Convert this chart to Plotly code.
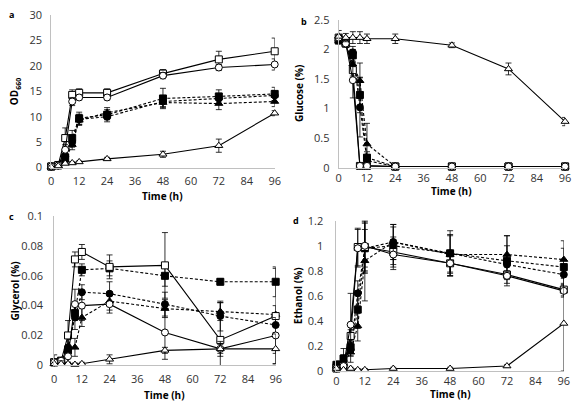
import plotly.graph_objects as go

time_h = [0, 3, 6, 9, 12, 24, 48, 72, 96]
x_ticks = [0, 12, 24, 36, 48, 60, 72, 84, 96]

series_names = ["open square", "open circle", "open triangle",
                "filled square", "filled circle", "filled triangle"]

# Panel a: OD660
od_vals = [
    [0.2, 0.5, 5.8, 14.3, 14.7, 14.7, 18.5, 21.3, 22.9],
    [0.2, 0.4, 3.5, 13.0, 13.8, 13.8, 18.1, 19.7, 20.3],
    [0.1, 0.3, 0.8, 0.9, 1.1, 1.7, 2.6, 4.3, 10.7],
    [0.2, 0.4, 2.0, 5.8, 9.7, 10.4, 13.6, 14.0, 14.5],
    [0.2, 0.4, 2.2, 5.0, 9.5, 10.0, 13.0, 13.6, 14.2],
    [0.1, 0.3, 1.5, 4.5, 9.3, 10.8, 12.8, 12.6, 13.0],
]
od_err = [
    [0.1, 0.1, 2.0, 1.0, 0.8, 0.8, 0.8, 1.6, 2.6],
    [0.1, 0.1, 1.0, 0.8, 0.5, 0.5, 0.6, 0.6, 1.1],
    [0.05, 0.1, 0.2, 0.2, 0.2, 0.3, 0.6, 1.3, 0.5],
    [0.1, 0.1, 0.5, 1.5, 1.2, 1.0, 2.0, 1.3, 1.3],
    [0.1, 0.1, 0.5, 1.0, 1.0, 1.0, 1.0, 1.0, 1.0],
    [0.1, 0.1, 0.5, 1.0, 1.0, 1.0, 1.0, 1.2, 1.0],
]

# Panel b: Glucose (%)
glu_vals = [
    [2.20, 2.10, 1.65, 0.03, 0.03, 0.02, 0.02, 0.02, 0.02],
    [2.20, 2.10, 1.48, 0.03, 0.03, 0.02, 0.02, 0.02, 0.02],
    [2.22, 2.20, 2.20, 2.20, 2.18, 2.18, 2.07, 1.67, 0.78],
    [2.15, 2.10, 1.90, 1.23, 0.17, 0.02, 0.02, 0.02, 0.02],
    [2.15, 2.10, 1.95, 1.02, 0.12, 0.02, 0.02, 0.02, 0.02],
    [2.15, 2.10, 1.75, 1.47, 0.40, 0.02, 0.02, 0.02, 0.02],
]
glu_err = [
    [0.05, 0.05, 0.10, 0.02, 0.02, 0.01, 0.01, 0.01, 0.01],
    [0.05, 0.05, 0.30, 0.02, 0.02, 0.01, 0.01, 0.01, 0.01],
    [0.10, 0.07, 0.10, 0.10, 0.08, 0.08, 0.04, 0.10, 0.07],
    [0.05, 0.05, 0.10, 0.30, 0.10, 0.01, 0.01, 0.01, 0.01],
    [0.05, 0.05, 0.10, 0.50, 0.10, 0.01, 0.01, 0.01, 0.01],
    [0.05, 0.05, 0.10, 0.30, 0.35, 0.01, 0.01, 0.01, 0.01],
]

# Panel c: Glycerol (%)
gly_vals = [
    [0.002, 0.003, 0.020, 0.071, 0.076, 0.066, 0.067, 0.017, 0.033],
    [0.002, 0.003, 0.006, 0.041, 0.040, 0.041, 0.022, 0.011, 0.020],
    [0.001, 0.001, 0.001, 0.0005, 0.001, 0.004, 0.010, 0.011, 0.011],
    [0.002, 0.003, 0.010, 0.035, 0.064, 0.065, 0.060, 0.056, 0.056],
    [0.002, 0.003, 0.012, 0.032, 0.049, 0.048, 0.041, 0.033, 0.027],
    [0.001, 0.002, 0.012, 0.012, 0.032, 0.043, 0.038, 0.036, 0.034],
]
gly_err = [
    [0.002, 0.002, 0.010, 0.005, 0.005, 0.008, 0.022, 0.025, 0.032],
    [0.002, 0.002, 0.004, 0.010, 0.010, 0.006, 0.018, 0.003, 0.012],
    [0.006, 0.002, 0.001, 0.001, 0.001, 0.003, 0.002, 0.005, 0.010],
    [0.002, 0.002, 0.010, 0.005, 0.004, 0.005, 0.007, 0.002, 0.010],
    [0.002, 0.002, 0.006, 0.008, 0.005, 0.008, 0.008, 0.010, 0.005],
    [0.002, 0.002, 0.006, 0.006, 0.006, 0.006, 0.006, 0.006, 0.006],
]

# Panel d: Ethanol (%)
eth_vals = [
    [0.02, 0.04, 0.28, 0.99, 0.99, 0.95, 0.86, 0.77, 0.65],
    [0.02, 0.04, 0.37, 0.98, 1.00, 0.93, 0.86, 0.76, 0.64],
    [0.02, 0.01, 0.02, 0.01, 0.01, 0.02, 0.02, 0.04, 0.38],
    [0.05, 0.10, 0.19, 0.49, 0.98, 1.00, 0.94, 0.88, 0.83],
    [0.05, 0.08, 0.17, 0.62, 0.98, 1.03, 0.94, 0.85, 0.77],
    [0.04, 0.06, 0.15, 0.36, 0.88, 1.03, 0.93, 0.93, 0.89],
]
eth_err = [
    [0.02, 0.03, 0.05, 0.15, 0.20, 0.12, 0.10, 0.03, 0.05],
    [0.02, 0.03, 0.25, 0.15, 0.20, 0.12, 0.10, 0.03, 0.05],
    [0.01, 0.01, 0.01, 0.01, 0.01, 0.01, 0.01, 0.01, 0.38],
    [0.03, 0.08, 0.05, 0.15, 0.20, 0.15, 0.18, 0.20, 0.15],
    [0.03, 0.05, 0.05, 0.10, 0.15, 0.14, 0.15, 0.15, 0.12],
    [0.03, 0.05, 0.08, 0.12, 0.32, 0.14, 0.15, 0.15, 0.15],
]

styles = [
    dict(symbol="square", fill="white", dash="solid"),
    dict(symbol="circle", fill="white", dash="solid"),
    dict(symbol="triangle-up", fill="white", dash="solid"),
    dict(symbol="square", fill="black", dash="3px,2px"),
    dict(symbol="circle", fill="black", dash="3px,2px"),
    dict(symbol="triangle-up", fill="black", dash="3px,2px"),
]

W, H = 577, 414
def xd(a, b):
    return [a / W, b / W]
def yd(top, bottom):
    return [1 - bottom / H, 1 - top / H]

panels = [
    dict(vals=od_vals, err=od_err, x=xd(49, 276), y=yd(7.5, 165.5), rng=[0, 30], dt=5,
         title="OD<sub>660</sub>", lab="a", labpos=(4, 7), ytx=12, xty=195, xso=3, yso=6),
    dict(vals=glu_vals, err=glu_err, x=xd(341, 571), y=yd(12.3, 165.7), rng=[0, 2.5], dt=0.5,
         title="Glucose (%)", lab="b", labpos=(301, 14), ytx=300, xty=190, xso=0, yso=6),
    dict(vals=gly_vals, err=gly_err, x=xd(52, 277), y=yd(216, 370.7), rng=[0, 0.1], dt=0.02,
         title="Glycerol (%)", lab="c", labpos=(4, 216), ytx=12, xty=402, xso=4, yso=8),
    dict(vals=eth_vals, err=eth_err, x=xd(338.7, 569.7), y=yd(220.7, 376.7), rng=[0, 1.2], dt=0.2,
         title="Ethanol (%)", lab="d", labpos=(293, 221), ytx=300, xty=400, xso=0, yso=10),
]

fig = go.Figure()
font_family = "Open Sans"
annotations = []
for i, p in enumerate(panels):
    xa = "x" if i == 0 else f"x{i+1}"
    ya = "y" if i == 0 else f"y{i+1}"
    order = [3, 4, 5, 0, 1, 2]
    for k in order:
        st = styles[k]
        fig.add_trace(go.Scatter(
            x=time_h, y=p["vals"][k], xaxis=xa, yaxis=ya,
            mode="lines+markers", name=series_names[k], showlegend=False,
            cliponaxis=False,
            line=dict(color="black", width=1.1, dash=st["dash"]),
            marker=dict(symbol=st["symbol"], size=7, color=st["fill"],
                        line=dict(color="black", width=1)),
            error_y=dict(type="data", array=p["err"][k], color="black",
                         thickness=0.8, width=3),
        ))
    axkey_x = "xaxis" if i == 0 else f"xaxis{i+1}"
    axkey_y = "yaxis" if i == 0 else f"yaxis{i+1}"
    fig.update_layout(**{
        axkey_x: dict(domain=p["x"], anchor=ya, range=[0, 96], tickvals=x_ticks,
                      showline=True, linecolor="#c0c0c0", linewidth=1,
                      showgrid=False, zeroline=False, ticks="",
                      ticklabelstandoff=p["xso"],
                      tickfont=dict(size=11, color="#333333", family=font_family)),
        axkey_y: dict(domain=p["y"], anchor=xa, range=p["rng"], dtick=p["dt"], tick0=0,
                      showline=True, linecolor="#c0c0c0", linewidth=1,
                      showgrid=False, zeroline=False, ticks="",
                      ticklabelstandoff=p["yso"],
                      tickfont=dict(size=11, color="#333333", family=font_family)),
    })
    ymid = 1 - ((1 - p["y"][1]) * H + (1 - p["y"][0]) * H) / 2 / H
    xmid = (p["x"][0] + p["x"][1]) / 2
    annotations.append(dict(text=f"<b>{p['title']}</b>", textangle=-90,
                            x=p["ytx"] / W, y=ymid, xref="paper", yref="paper",
                            showarrow=False, xanchor="center", yanchor="middle",
                            font=dict(size=10, color="black", family=font_family)))
    annotations.append(dict(text="<b>Time (h)</b>", x=xmid, y=1 - p["xty"] / H,
                            xref="paper", yref="paper", showarrow=False,
                            xanchor="center", yanchor="middle",
                            font=dict(size=10, color="black", family=font_family)))
    annotations.append(dict(text=f"<b>{p['lab']}</b>", x=p["labpos"][0] / W,
                            y=1 - p["labpos"][1] / H, xref="paper", yref="paper",
                            showarrow=False, xanchor="left", yanchor="middle",
                            font=dict(size=9, color="black", family=font_family)))

fig.update_layout(width=W, height=H, margin=dict(l=0, r=0, t=0, b=0),
                  paper_bgcolor="white", plot_bgcolor="white",
                  annotations=annotations)
fig.write_html("out.html")
